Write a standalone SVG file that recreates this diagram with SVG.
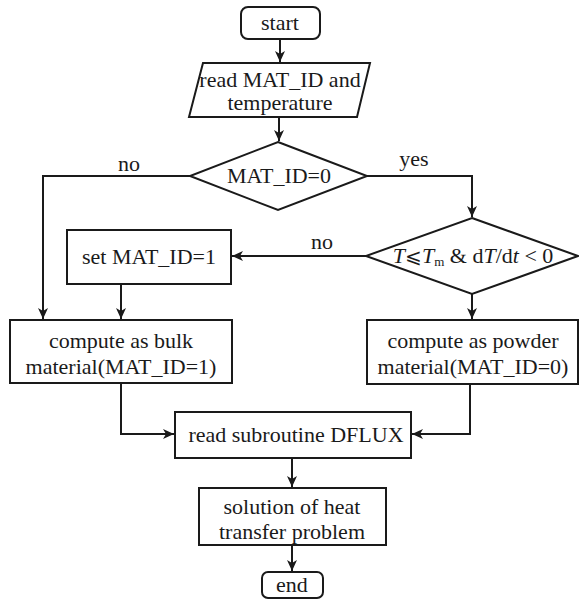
<svg xmlns="http://www.w3.org/2000/svg" width="579" height="600" viewBox="0 0 579 600">
<style>
.s{fill:#fff;stroke:#1a1a1a;stroke-width:2}
.t{font-family:"Liberation Serif","DejaVu Serif",serif;font-size:22px;fill:#1a1a1a;text-anchor:middle}
.c{fill:none;stroke:#1a1a1a;stroke-width:2}
</style>
<defs>
<marker id="a" markerUnits="userSpaceOnUse" markerWidth="12" markerHeight="12" refX="11" refY="5" orient="auto">
<path d="M0,0 L11,5 L0,10 L3,5 Z" fill="#1a1a1a"/>
</marker>
</defs>
<rect width="579" height="600" fill="#fff"/>
<g id="connectors">
<line class="c" x1="280" y1="39" x2="280" y2="62" marker-end="url(#a)"/>
<line class="c" x1="279" y1="117" x2="279" y2="141" marker-end="url(#a)"/>
<polyline class="c" points="190,176 43,176 43,319" marker-end="url(#a)"/>
<polyline class="c" points="367,176 472,176 472,217" marker-end="url(#a)"/>
<line class="c" x1="367" y1="256" x2="232" y2="256" marker-end="url(#a)"/>
<line class="c" x1="121" y1="284" x2="121" y2="319" marker-end="url(#a)"/>
<line class="c" x1="472" y1="294" x2="472" y2="319" marker-end="url(#a)"/>
<polyline class="c" points="121,383 121,434 174,434" marker-end="url(#a)"/>
<polyline class="c" points="470,384 470,434 412,434" marker-end="url(#a)"/>
<line class="c" x1="292" y1="458" x2="292" y2="487" marker-end="url(#a)"/>
<line class="c" x1="292" y1="545" x2="292" y2="571" marker-end="url(#a)"/>
<text class="t" x="129" y="171">no</text>
<text class="t" x="414" y="166">yes</text>
<text class="t" x="322" y="249">no</text>
</g>
<g id="start">
<rect class="s" x="241" y="7" width="79" height="32" rx="7"/>
<text class="t" x="280" y="30">start</text>
</g>
<g id="read">
<polygon class="s" points="203,63 370,63 357,117 189,117"/>
<text class="t" x="280" y="87">read MAT_ID and</text>
<text class="t" x="280" y="110">temperature</text>
</g>
<g id="dec1">
<polygon class="s" points="278,142 367,176 278,210 190,176"/>
<text class="t" x="279" y="183">MAT_ID=0</text>
</g>
<g id="dec2">
<polygon class="s" points="472,218 578,256 472,294 366,256"/>
<text class="t" x="473" y="263"><tspan font-style="italic">T</tspan><tspan font-family="DejaVu Serif" font-size="20">⩽</tspan><tspan font-style="italic">T</tspan><tspan font-size="13" dy="3">m</tspan><tspan dy="-3"> &amp; d</tspan><tspan font-style="italic">T</tspan>/d<tspan font-style="italic">t</tspan> &lt; 0</text>
</g>
<g id="set">
<rect class="s" x="67" y="230" width="164" height="54"/>
<text class="t" x="149" y="264">set MAT_ID=1</text>
</g>
<g id="bulk">
<rect class="s" x="10" y="320" width="222" height="63"/>
<text class="t" x="121" y="348">compute as bulk</text>
<text class="t" x="121" y="374">material(MAT_ID=1)</text>
</g>
<g id="powder">
<rect class="s" x="367" y="320" width="211" height="64"/>
<text class="t" x="473" y="348">compute as powder</text>
<text class="t" x="473" y="374">material(MAT_ID=0)</text>
</g>
<g id="dflux">
<rect class="s" x="175" y="412" width="236" height="46"/>
<text class="t" x="296" y="442">read subroutine DFLUX</text>
</g>
<g id="solution">
<rect class="s" x="199" y="488" width="187" height="57"/>
<text class="t" x="292" y="514">solution of heat</text>
<text class="t" x="292" y="539">transfer problem</text>
</g>
<g id="end">
<rect class="s" x="262" y="572" width="61" height="26" rx="6"/>
<text class="t" x="292" y="592">end</text>
</g>
</svg>
